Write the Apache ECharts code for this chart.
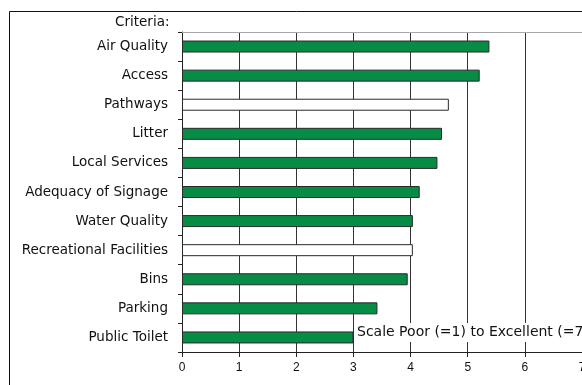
<!DOCTYPE html>
<html>
<head>
<meta charset="utf-8">
<script src="https://cdn.jsdelivr.net/npm/echarts@6/dist/echarts.min.js"></script>
<style>
html, body { margin: 0; padding: 0; background: #fff; }
#main { width: 582px; height: 385px; }
</style>
</head>
<body>
<div id="main"></div>
<script>
// criteria, top to bottom
var criteria = ['Air Quality', 'Access', 'Pathways', 'Litter', 'Local Services',
	'Adequacy of Signage', 'Water Quality', 'Recreational Facilities', 'Bins',
	'Parking', 'Public Toilet'];
var scores = [5.38, 5.21, 4.67, 4.55, 4.47, 4.16, 4.04, 4.04, 3.95, 3.42, 3.0];
// criteria drawn as empty bars
var hollowCriteria = ['Pathways', 'Recreational Facilities'];
var scaleTicks = [0, 1, 2, 3, 4, 5, 6, 7];

var GREEN = '#078c45';
var LABEL_FONT = 'DejaVu Sans';

function buildBars() {
	var result = [];
	for (var i = 0; i < scores.length; i++) {
		var hollow = hollowCriteria.indexOf(criteria[i]) != -1;
		result.push({
			value: scores[i],
			itemStyle: {
				color: hollow ? '#ffffff' : GREEN,
				borderColor: '#2a2a2a',
				borderWidth: 1
			}
		});
	}
	return result;
}

var dom = document.getElementById('main');
var myChart = echarts.init(dom, null, { renderer: 'canvas' });

var option = {
	animation: false,
	backgroundColor: '#fff',
	grid: {
		left: 182,
		right: 0,
		top: 32,
		bottom: 33,
		outerBoundsMode: 'none',
		containLabel: false
	},
	xAxis: [{
		type: 'value',
		min: scaleTicks[0],
		max: scaleTicks[scaleTicks.length - 1],
		interval: 1,
		position: 'bottom',
		axisLine: { show: true, onZero: false, lineStyle: { color: '#222', width: 1 } },
		axisTick: { show: true, length: 5, lineStyle: { color: '#222' } },
		axisLabel: {
			margin: 10,
			color: '#111',
			fontFamily: 'Liberation Sans',
			fontSize: 12,
			hideOverlap: false,
			showMaxLabel: true,
			formatter: function (v) { return String(v); }
		},
		splitLine: { show: true, lineStyle: { color: '#333', width: 1 } }
	}, {
		// plain frame line along the top of the plot
		type: 'value',
		min: 0,
		max: 7,
		position: 'top',
		axisLine: { show: true, lineStyle: { color: '#a8a8a8', width: 1 } },
		axisTick: { show: false },
		axisLabel: { show: false },
		splitLine: { show: false }
	}],
	yAxis: {
		type: 'category',
		data: criteria,
		inverse: true,
		axisLine: { show: true, lineStyle: { color: '#222', width: 1 } },
		axisTick: { show: true, length: 4, lineStyle: { color: '#222' } },
		axisLabel: {
			margin: 14,
			color: '#111',
			fontFamily: LABEL_FONT,
			fontSize: 13.5
		},
		splitLine: { show: false }
	},
	series: [{
		name: 'Score',
		type: 'bar',
		xAxisIndex: 0,
		barWidth: 12,
		data: buildBars(),
		z: 3
	}],
	graphic: [{
		type: 'rect',
		left: 7,
		top: 9,
		shape: { width: 640, height: 420 },
		style: { fill: 'none', stroke: '#111', lineWidth: 1 },
		silent: true,
		z: 0
	}, {
		type: 'text',
		left: 115,
		top: 15,
		style: {
			text: 'Criteria:',
			fill: '#111',
			font: '13.5px "DejaVu Sans"'
		},
		z: 10
	}, {
		type: 'text',
		left: 356,
		top: 323,
		style: {
			text: 'Scale Poor (=1) to Excellent (=7)',
			fill: '#111',
			font: '14px "DejaVu Sans"',
			backgroundColor: '#fff',
			padding: [2, 2, 3, 1]
		},
		z: 10
	}]
};

if (option && typeof option === "object") {
	myChart.setOption(option, true);
}
window.addEventListener('resize', function() {
	myChart.resize();
})
</script>
</body>
</html>
